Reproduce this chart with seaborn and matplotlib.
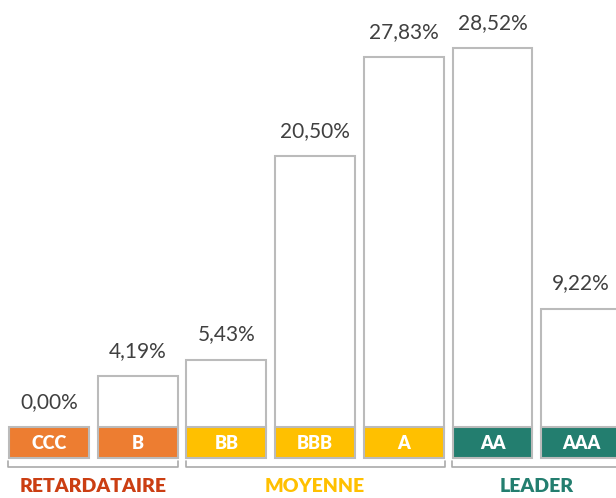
import matplotlib
matplotlib.use("Agg")
import matplotlib.pyplot as plt
import seaborn as sns
import pandas as pd

# data
ratings = ["CCC", "B", "BB", "BBB", "A", "AA", "AAA"]
values = [0.00, 4.19, 5.43, 20.50, 27.83, 28.52, 9.22]
groups = ["RETARDATAIRE", "RETARDATAIRE", "MOYENNE", "MOYENNE", "MOYENNE", "LEADER", "LEADER"]
group_names = ["RETARDATAIRE", "MOYENNE", "LEADER"]
group_colors = {"RETARDATAIRE": "#ED7D31", "MOYENNE": "#FFC000", "LEADER": "#237E6F"}
group_text_colors = {"RETARDATAIRE": "#CB3E12", "MOYENNE": "#FFC000", "LEADER": "#237E6F"}

df = pd.DataFrame({"rating": ratings, "value": values, "group": groups})

sns.set_style("white")
plt.rcParams["font.family"] = ["Lato", "DejaVu Sans"]

fig = plt.figure(figsize=(6.16, 4.98), dpi=100)
ax = fig.add_axes([0, 0, 1, 1])

# white bars with grey outline
sns.barplot(data=df, x="rating", y="value", color="white", edgecolor="#BBBBBB",
            linewidth=1.5, width=0.9, saturation=1, ax=ax, zorder=2)

# coloured rating boxes at the bottom
box_bottom, box_height = -1.85, 2.3
for i, (r, g) in enumerate(zip(ratings, groups)):
    ax.bar(i, box_height, bottom=box_bottom, width=0.9, color=group_colors[g],
           edgecolor="#BBBBBB", linewidth=1.5, zorder=3)
    ax.text(i, box_bottom + box_height / 2 - 0.05, r, ha="center", va="center",
            color="white", fontsize=13, fontweight="heavy", zorder=4)

# value labels
for i, v in enumerate(values):
    top = max(v, box_bottom + box_height)
    ax.annotate(f"{v:.2f}%".replace(".", ","), (i, top), xytext=(0, 11),
                textcoords="offset points", ha="center", va="bottom",
                color="#404040", fontsize=15)

# group brackets and labels
for name in group_names:
    idx = [i for i, g in enumerate(groups) if g == name]
    x0, x1 = idx[0] - 0.46, idx[-1] + 0.46
    ax.plot([x0, x0, x1, x1], [-2.08, -2.55, -2.55, -2.08], color="#AAAAAA",
            linewidth=1.2, clip_on=False)
    ax.text((idx[0] + idx[-1]) / 2, -3.97, name, ha="center", va="center",
            color=group_text_colors[name], fontsize=14, fontweight="heavy")

ax.set_xlim(-0.552, 6.392)
ax.set_ylim(-4.81, 32.07)
ax.axis("off")

fig.savefig("out.png", dpi=100)
